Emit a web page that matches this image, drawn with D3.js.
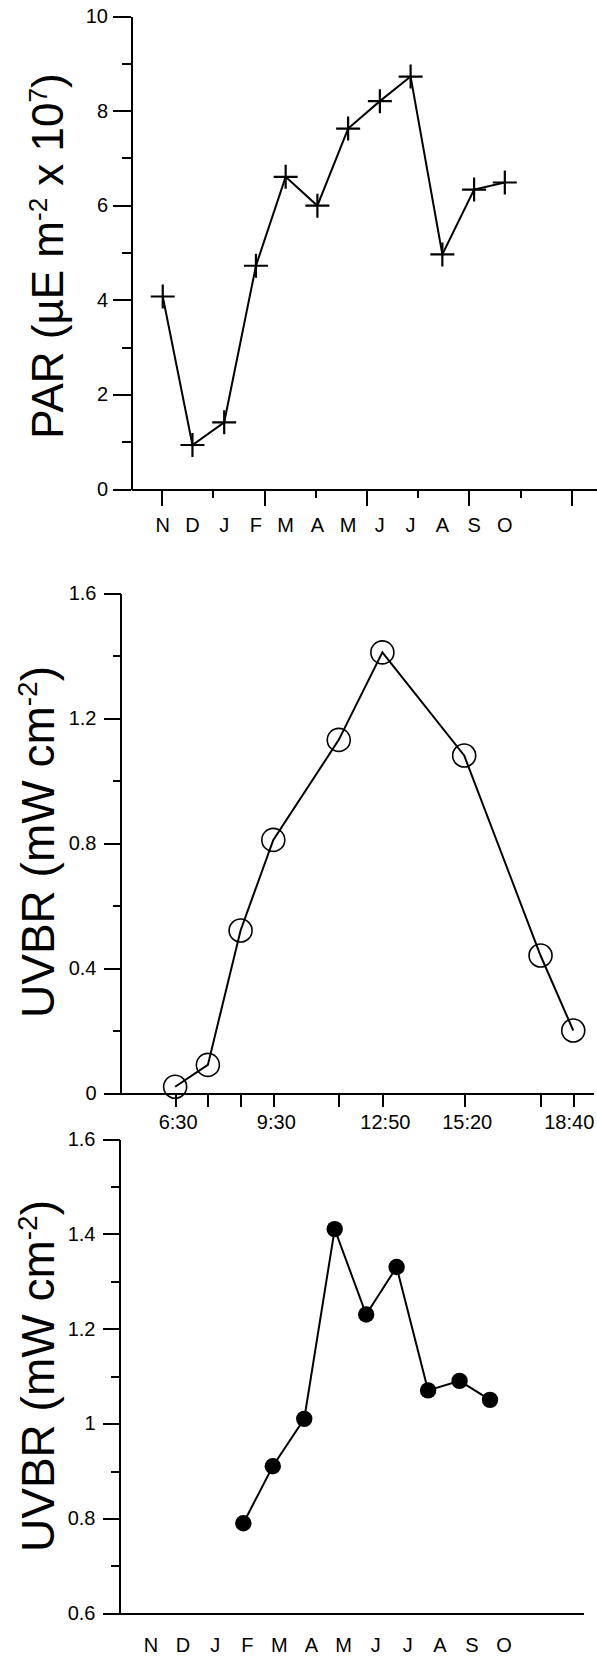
<!DOCTYPE html>
<html>
<head>
<meta charset="utf-8">
<script src="https://cdn.jsdelivr.net/npm/d3@7"></script>
<style>
  html, body { margin: 0; padding: 0; background: #fff; }
  svg { display: block; }
  text { font-family: "Liberation Sans", Arial, Helvetica, sans-serif; fill: #000; }
  .axis path, .axis line { stroke: #000; stroke-width: 2; shape-rendering: crispEdges; }
  .axis text { font-size: 20px; }
</style>
</head>
<body>
<script>
// ---- Data -------------------------------------------------------------
// Monthly PAR (µE m-2 x 10^7), November to October, keyed by day since 1 Nov
const parMonths = ["N", "D", "J", "F", "M", "A", "M", "J", "J", "A", "S", "O"];
const parDays = [1, 30, 61, 92, 121, 152, 182, 213, 243, 274, 305, 335];
const parValues = [4.07, 0.93, 1.41, 4.72, 6.60, 5.99, 7.62, 8.20, 8.72, 4.96, 6.33, 6.48];
const parMajorTicks = [0, 2, 4, 6, 8, 10];
const parMinorTicks = [1, 3, 5, 7, 9];
const parDayMajorTicks = [0, 100, 200, 300, 400];
const parDayMinorTicks = [50, 150, 250, 350];

// Diurnal UVBR (mW cm-2)
const uvTimes = ["6:30", "7:30", "8:30", "9:30", "11:30", "12:50", "15:20", "17:40", "18:40"];
const uvDiurnal = [0.02, 0.09, 0.52, 0.81, 1.13, 1.41, 1.08, 0.44, 0.20];
const uvTimeLabels = ["6:30", "9:30", "12:50", "15:20", "18:40"];
const uvDiurnalMajorTicks = [0, 0.4, 0.8, 1.2, 1.6];
const uvDiurnalMinorTicks = [0.2, 0.6, 1.0, 1.4];

// Monthly UVBR (mW cm-2), February to October
const uvMonthDays = [92, 121, 152, 182, 213, 243, 274, 305, 335];
const uvMonthly = [0.79, 0.91, 1.01, 1.41, 1.23, 1.33, 1.07, 1.09, 1.05];
const uvMonthlyMajorTicks = [0.6, 0.8, 1.0, 1.2, 1.4, 1.6];
const uvMonthlyMinorTicks = [0.7, 0.9, 1.1, 1.3, 1.5];

// ---- Helpers ----------------------------------------------------------
const hours = t => { const [h, m] = t.split(":").map(Number); return h + m / 60; };
const fmtTick = d => d3.format("")(+d.toFixed(1));

const W = 597, H = 1656;
const svg = d3.select("body").append("svg").attr("width", W).attr("height", H);
svg.append("rect").attr("width", W).attr("height", H).attr("fill", "#fff");

function yAxes(g, y, major, minor, majorLen, minorLen, pad) {
  g.append("g").attr("class", "axis")
    .call(d3.axisLeft(y).tickValues(major).tickSize(majorLen).tickSizeOuter(0)
      .tickPadding(pad).tickFormat(fmtTick));
  g.append("g").attr("class", "axis")
    .call(d3.axisLeft(y).tickValues(minor).tickSize(minorLen).tickSizeOuter(0).tickFormat(""))
    .select(".domain").remove();
}

function yTitle(g, x, y, size, pre, sup1, mid, sup2, post) {
  const supSize = Math.round(size * 0.6), rise = Math.round(size * 0.36);
  const t = g.append("text")
    .attr("transform", `translate(${x},${y}) rotate(-90)`)
    .attr("text-anchor", "middle")
    .style("font-size", size + "px");
  t.append("tspan").text(pre);
  t.append("tspan").attr("dy", -rise).style("font-size", supSize + "px").text(sup1);
  if (mid !== null) {
    t.append("tspan").attr("dy", rise).text(mid);
    t.append("tspan").attr("dy", -rise).style("font-size", supSize + "px").text(sup2);
  }
  t.append("tspan").attr("dy", rise).text(post);
}

// ---- Panel 1: PAR -----------------------------------------------------
{
  const g = svg.append("g");
  const x = d3.scaleLinear().domain([-30, 425]).range([131, 597]);
  const y = d3.scaleLinear().domain([0, 10]).range([489, 16]);

  // x axis: day ticks every 50 days, long ticks every 100
  g.append("g").attr("class", "axis").attr("transform", `translate(0,${y(0)})`)
    .call(d3.axisBottom(x).tickValues(parDayMajorTicks).tickSize(17).tickSizeOuter(0).tickFormat(""));
  g.append("g").attr("class", "axis").attr("transform", `translate(0,${y(0)})`)
    .call(d3.axisBottom(x).tickValues(parDayMinorTicks).tickSize(9).tickSizeOuter(0).tickFormat(""))
    .select(".domain").remove();

  const ya = g.append("g").attr("transform", `translate(${x.range()[0]},0)`);
  yAxes(ya, y, parMajorTicks, parMinorTicks, 18, 9, 5);

  g.append("g").selectAll("text").data(parMonths).join("text")
    .attr("x", (d, i) => x(parDays[i]))
    .attr("y", y(0) + 43)
    .attr("text-anchor", "middle")
    .style("font-size", "20px")
    .text(d => d);

  const pts = parValues.map((v, i) => [x(parDays[i]), y(v)]);
  g.append("path").attr("d", d3.line()(pts))
    .attr("fill", "none").attr("stroke", "#000").attr("stroke-width", 2);
  g.append("g").selectAll("path").data(pts).join("path")
    .attr("transform", d => `translate(${d[0]},${d[1]})`)
    .attr("d", "M-12,0H12M0,-12V12")
    .attr("stroke", "#000").attr("stroke-width", 2.2).attr("fill", "none");

  yTitle(g, 63, 256, 44, "PAR (µE m", "-2", " x 10", "7", ")");
}

// ---- Panel 2: diurnal UVBR ---------------------------------------------
{
  const g = svg.append("g");
  const x = d3.scaleLinear().domain([4.83, 19.27]).range([120.5, 593]);
  const y = d3.scaleLinear().domain([0, 1.6]).range([1093, 593]);

  g.append("g").attr("class", "axis").attr("transform", `translate(0,${y(0)})`)
    .call(d3.axisBottom(x).tickValues(uvTimes.map(hours)).tickSize(14).tickSizeOuter(0).tickFormat(""));

  g.append("g").selectAll("text").data(uvTimeLabels).join("text")
    .attr("x", d => x(hours(d)))
    .attr("dx", (d, i) => i === uvTimeLabels.length - 1 ? -4 : 3)
    .attr("y", y(0) + 36)
    .attr("text-anchor", "middle")
    .style("font-size", "20px")
    .text(d => d);

  const ya = g.append("g").attr("transform", `translate(${x.range()[0]},0)`);
  yAxes(ya, y, uvDiurnalMajorTicks, uvDiurnalMinorTicks, 17, 8, 7);

  const pts = uvDiurnal.map((v, i) => [x(hours(uvTimes[i])), y(v)]);
  g.append("path").attr("d", d3.line()(pts))
    .attr("fill", "none").attr("stroke", "#000").attr("stroke-width", 2);
  g.append("g").selectAll("circle").data(pts).join("circle")
    .attr("cx", d => d[0]).attr("cy", d => d[1]).attr("r", 11.5)
    .attr("fill", "none").attr("stroke", "#000").attr("stroke-width", 1.6);

  yTitle(g, 54, 842, 46, "UVBR (mW cm", "-2", null, null, ")");
}

// ---- Panel 3: monthly UVBR ---------------------------------------------
{
  const g = svg.append("g");
  const x = d3.scaleLinear().domain([-30, 426.6]).range([119.5, 583]);
  const y = d3.scaleLinear().domain([0.6, 1.6]).range([1613.3, 1139]);
  const xLabel = d3.scalePoint().domain(d3.range(parMonths.length)).range([151, 504]);

  g.append("g").attr("class", "axis").attr("transform", `translate(0,${y(0.6)})`)
    .call(d3.axisBottom(x).tickValues([]).tickSizeOuter(0));

  const ya = g.append("g").attr("transform", `translate(${x.range()[0]},0)`);
  yAxes(ya, y, uvMonthlyMajorTicks, uvMonthlyMinorTicks, 17, 9, 7);

  g.append("g").selectAll("text").data(parMonths).join("text")
    .attr("x", (d, i) => xLabel(i))
    .attr("y", y(0.6) + 39)
    .attr("text-anchor", "middle")
    .style("font-size", "20px")
    .text(d => d);

  const pts = uvMonthly.map((v, i) => [x(uvMonthDays[i]), y(v)]);
  g.append("path").attr("d", d3.line()(pts))
    .attr("fill", "none").attr("stroke", "#000").attr("stroke-width", 2);
  g.append("g").selectAll("circle").data(pts).join("circle")
    .attr("cx", d => d[0]).attr("cy", d => d[1]).attr("r", 8.2)
    .attr("fill", "#000");

  yTitle(g, 54, 1376, 46, "UVBR (mW cm", "-2", null, null, ")");
}
</script>
</body>
</html>
